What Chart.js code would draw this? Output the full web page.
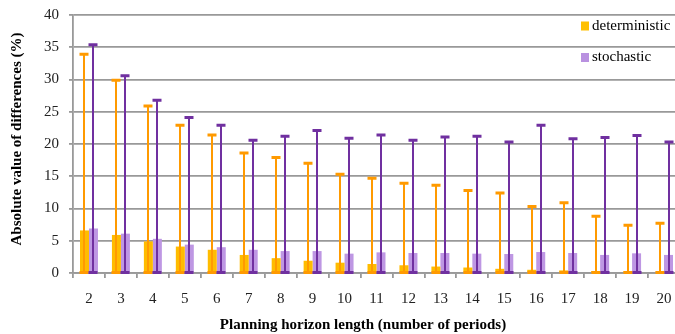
<!DOCTYPE html>
<html>
<head>
<meta charset="utf-8">
<script src="https://cdn.jsdelivr.net/npm/chart.js@4/dist/chart.umd.min.js"></script>
<style>
  html, body { margin: 0; padding: 0; overflow: hidden; background: #fff; }
  canvas { display: block; }
</style>
</head>
<body>
<canvas id="chart" width="681" height="334"></canvas>
<script>
// Planning horizon lengths (number of periods)
const horizons = ['2','3','4','5','6','7','8','9','10','11','12','13','14','15','16','17','18','19','20'];

// Average absolute difference (%) per horizon
const deterministic = [6.6, 5.9, 4.9, 4.1, 3.6, 2.8, 2.3, 1.9, 1.6, 1.4, 1.2, 1.0, 0.85, 0.65, 0.5, 0.4, 0.3, 0.25, 0.2];
const stochastic    = [6.9, 6.1, 5.3, 4.4, 4.0, 3.6, 3.4, 3.4, 3.0, 3.2, 3.1, 3.1, 3.0, 2.95, 3.25, 3.1, 2.8, 3.05, 2.8];

// Maximum absolute difference (%) per horizon, shown as range whiskers from 0
const deterministicMax = [33.9, 29.9, 25.9, 22.9, 21.4, 18.6, 17.9, 17.0, 15.3, 14.7, 13.9, 13.6, 12.8, 12.4, 10.3, 10.9, 8.8, 7.4, 7.7];
const stochasticMax    = [35.4, 30.6, 26.8, 24.1, 22.9, 20.6, 21.2, 22.1, 20.9, 21.4, 20.6, 21.1, 21.2, 20.3, 22.9, 20.8, 21.0, 21.3, 20.3];

// Value axis
const yMin = 0, yMax = 40, yStep = 5;

const xTitle = 'Planning horizon length (number of periods)';
const yTitle = 'Absolute value of differences (%)';

const FONT = '"Liberation Serif", "Times New Roman", serif';
const GRID = '#999999';

// Whiskers from zero up to the maximum, with caps at both ends
const rangeWhiskers = {
  id: 'rangeWhiskers',
  afterDatasetsDraw(chart) {
    const ctx = chart.ctx;
    const y = chart.scales.y;
    chart.data.datasets.forEach((ds, i) => {
      const meta = chart.getDatasetMeta(i);
      ctx.save();
      ctx.strokeStyle = ds.whiskerColor;
      meta.data.forEach((bar, j) => {
        const x = Math.round(bar.x);
        const y0 = y.getPixelForValue(0);
        const y1 = y.getPixelForValue(ds.whiskerMax[j]);
        ctx.lineWidth = 2;
        ctx.beginPath();
        ctx.moveTo(x, y0);
        ctx.lineTo(x, y1);
        ctx.stroke();
        ctx.lineWidth = 3;
        ctx.beginPath();
        ctx.moveTo(x - 4.5, y1);
        ctx.lineTo(x + 4.5, y1);
        ctx.moveTo(x - 4.5, y0 - 0.5);
        ctx.lineTo(x + 4.5, y0 - 0.5);
        ctx.stroke();
      });
      ctx.restore();
    });
  }
};

// Axis titles and the in-plot legend
const annotations = {
  id: 'annotations',
  afterDraw(chart) {
    const ctx = chart.ctx;
    ctx.save();
    ctx.fillStyle = '#000';
    ctx.font = 'bold 15px ' + FONT;
    ctx.textAlign = 'center';
    ctx.textBaseline = 'middle';
    ctx.fillText(xTitle, 363, 325);
    ctx.save();
    ctx.translate(17, 139);
    ctx.rotate(-Math.PI / 2);
    ctx.fillText(yTitle, 0, 0);
    ctx.restore();

    ctx.font = '15px ' + FONT;
    ctx.textAlign = 'left';
    chart.data.datasets.forEach((ds, i) => {
      const cy = 26 + i * 31.5;
      ctx.fillStyle = ds.legendColor;
      ctx.fillRect(581, cy - 4.5, 8, 9);
      ctx.fillStyle = '#000';
      ctx.fillText(ds.label, 592, cy);
    });
    ctx.restore();
  }
};

new Chart(document.getElementById('chart'), {
  type: 'bar',
  data: {
    labels: horizons,
    datasets: [
      {
        label: 'deterministic',
        data: deterministic,
        whiskerMax: deterministicMax,
        backgroundColor: '#FFBC00',
        legendColor: '#FFC000',
        whiskerColor: '#FF9A00',
        borderWidth: 0
      },
      {
        label: 'stochastic',
        data: stochastic,
        whiskerMax: stochasticMax,
        backgroundColor: '#BE97E3',
        legendColor: '#B991E0',
        whiskerColor: '#7030A0',
        borderWidth: 0
      }
    ]
  },
  options: {
    responsive: false,
    animation: false,
    devicePixelRatio: 1,
    layout: { padding: { top: 15, right: 1, left: 0, bottom: 0 } },
    categoryPercentage: 0.563,
    barPercentage: 1,
    plugins: {
      legend: { display: false },
      tooltip: { enabled: false },
      title: { display: false }
    },
    scales: {
      x: {
        offset: true,
        grid: {
          offset: true,
          drawOnChartArea: false,
          drawTicks: true,
          tickLength: 5,
          color: GRID,
          lineWidth: 1.8
        },
        border: { display: true, color: GRID, width: 1.8 },
        ticks: {
          autoSkip: false,
          maxRotation: 0,
          padding: 12,
          color: '#222',
          font: { family: FONT, size: 15 }
        },
        afterFit(scale) {
          scale.height = 61;
          scale.paddingLeft = 0;
          scale.paddingRight = 0;
        }
      },
      y: {
        min: yMin,
        max: yMax,
        grid: {
          drawTicks: true,
          tickLength: 4,
          color: GRID,
          lineWidth: 1.8
        },
        border: { display: true, color: GRID, width: 1.8 },
        ticks: {
          stepSize: yStep,
          padding: 10,
          color: '#222',
          font: { family: FONT, size: 15 }
        },
        afterFit(scale) {
          scale.width = 73;
          scale.paddingTop = 0;
          scale.paddingBottom = 0;
        }
      }
    }
  },
  plugins: [rangeWhiskers, annotations]
});
</script>
</body>
</html>
